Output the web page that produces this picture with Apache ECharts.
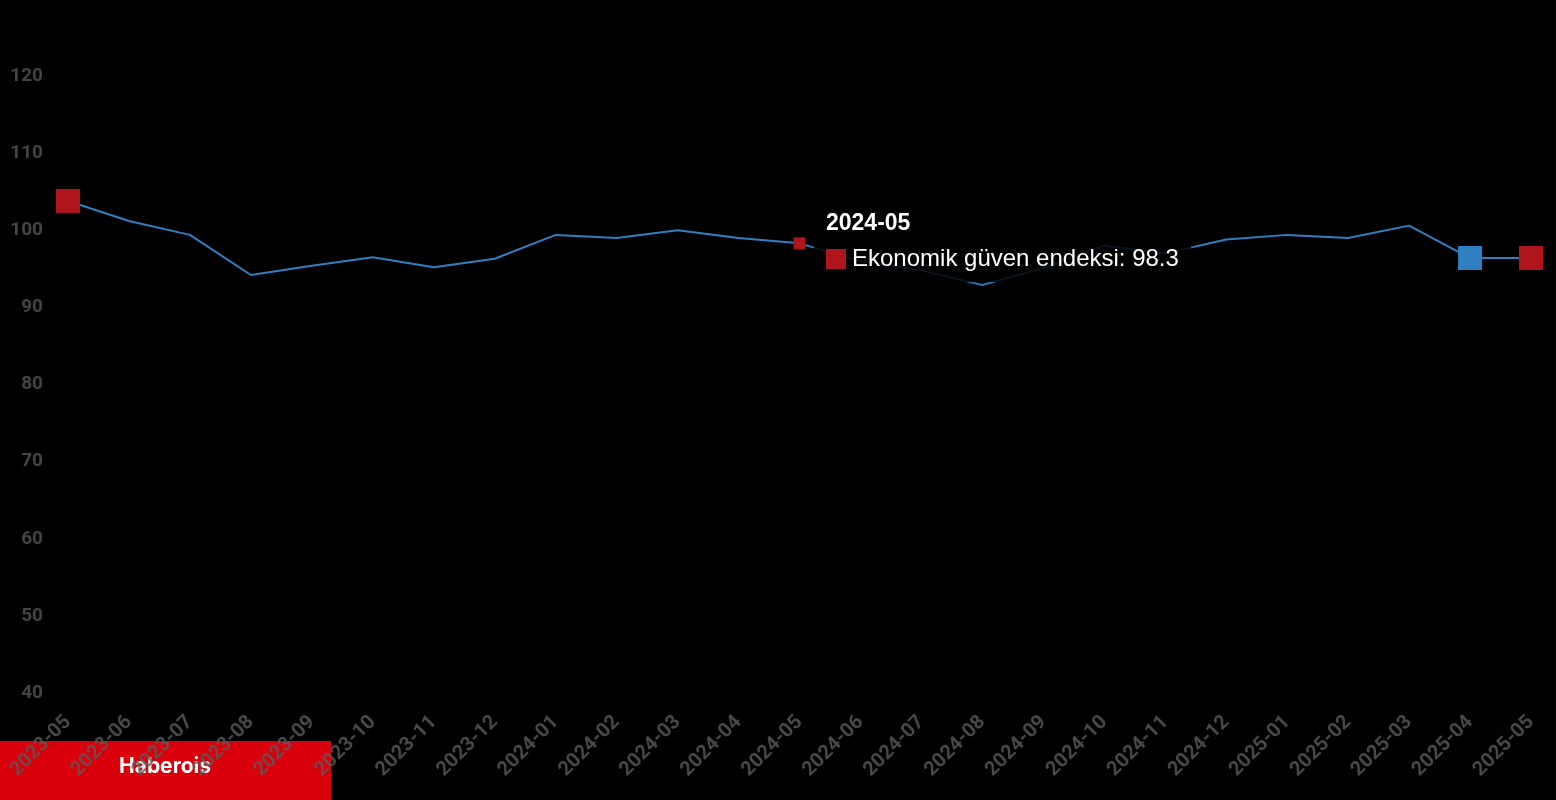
<!DOCTYPE html>
<html><head><meta charset="utf-8">
<script src="https://cdn.jsdelivr.net/npm/echarts@6/dist/echarts.min.js"></script>
<style>html,body{margin:0;background:#000}#c{width:1556px;height:800px}</style>
</head><body><div id="c"></div>
<script>
var months = ['2023-05','2023-06','2023-07','2023-08','2023-09','2023-10','2023-11','2023-12',
  '2024-01','2024-02','2024-03','2024-04','2024-05','2024-06','2024-07','2024-08','2024-09','2024-10',
  '2024-11','2024-12','2025-01','2025-02','2025-03','2025-04','2025-05'];
var values = [103.8,101.2,99.4,94.2,95.4,96.5,95.2,96.3,99.4,99.0,100.0,99.0,98.3,96.0,94.8,92.9,95.1,98.0,
  97.0,98.8,99.4,99.0,100.6,96.4,96.4];
var seriesName = 'Ekonomik güven endeksi';

var red = '#b0151c', blue = '#2f7fc1';
var marks = {0: [red, 24], 12: [red, 12], 23: [blue, 24], 24: [red, 24]};
var data = values.map(function (v, i) {
  var m = marks[i];
  if (!m) return v;
  return {value: v, symbol: 'rect', symbolSize: m[1], itemStyle: {color: m[0]}};
});

var chart = echarts.init(document.getElementById('c'));
chart.setOption({
  backgroundColor: '#000',
  animation: false,
  grid: {left: 68, right: 25, top: 76, bottom: 107},
  tooltip: {
    trigger: 'item',
    alwaysShowContent: true,
    backgroundColor: 'rgba(0,0,0,0.85)',
    borderWidth: 0,
    padding: [6, 12],
    textStyle: {color: '#fff', fontFamily: 'Liberation Sans', fontSize: 24},
    position: [814, 198],
    formatter: function (p) {
      return '<b style="font-size:23px">' + p.name + '</b><br/>' +
        '<span style="display:inline-block;width:20px;height:20px;background:' + red +
        ';margin-right:6px;vertical-align:-3px"></span>' + p.seriesName + ': ' + p.value;
    }
  },
  xAxis: {
    type: 'category', data: months, boundaryGap: false,
    axisLine: {show: false}, axisTick: {show: false},
    axisLabel: {rotate: 45, margin: 26, color: 'rgba(90,90,90,0.8)', fontSize: 20, fontWeight: 'bold', fontFamily: 'Roboto'}
  },
  yAxis: {
    type: 'value', min: 40, max: 120, interval: 10,
    splitLine: {show: false},
    axisLabel: {color: '#444', fontSize: 19, fontWeight: 'bold', fontFamily: 'Roboto', margin: 25}
  },
  graphic: [{
    type: 'group', left: 0, bottom: 0, z: -10,
    children: [
      {type: 'rect', shape: {x: 0, y: 0, width: 331, height: 59}, style: {fill: '#d9000b'}},
      {type: 'text', x: 165, y: 26, style: {text: 'Haberois', fill: '#fff', font: 'bold 21px Inter', align: 'center', verticalAlign: 'middle'}}
    ]
  }],
  series: [{
    name: seriesName, type: 'line', data: data,
    symbol: 'none', showAllSymbol: true,
    lineStyle: {color: blue, width: 2},
    itemStyle: {color: blue},
    emphasis: {disabled: true}
  }]
});
chart.dispatchAction({type: 'showTip', seriesIndex: 0, dataIndex: 12});
</script></body></html>
